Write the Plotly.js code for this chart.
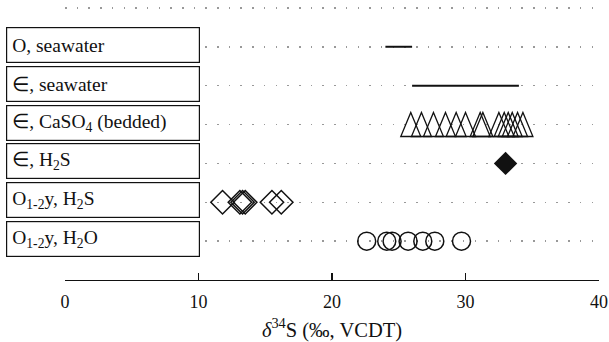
<!DOCTYPE html>
<html>
<head>
<meta charset="utf-8">
<script src="https://cdn.plot.ly/plotly-3.0.1.min.js"></script>
<style>html,body{margin:0;padding:0;background:#fff;}#chart{width:609px;height:342px;}</style>
</head>
<body>
<div id="chart"></div>
<script>
// Row labels (top to bottom) and their row positions
var rowLabels = [
  "O, seawater",
  "∈, seawater",
  "∈, CaSO<sub>4</sub> (bedded)",
  "∈, H<sub>2</sub>S",
  "O<sub>1-2</sub>y, H<sub>2</sub>S",
  "O<sub>1-2</sub>y, H<sub>2</sub>O"
];
var rowPos = [6, 5, 4, 3, 2, 1];

// δ34S values (‰, VCDT)
var oSeawaterRange = [24, 26];
var cSeawaterRange = [26, 34];
var cCaSO4 = [25.9, 26.7, 27.6, 28.5, 29.3, 30.0, 31.1, 31.3, 32.5, 32.9, 33.2, 33.5, 33.9, 34.3];
var cH2S = [33.0];
var oH2S = [11.8, 13.1, 13.3, 13.5, 15.5, 16.2];
var oH2O = [22.6, 24.1, 24.5, 25.7, 26.8, 27.7, 29.7];
var xTicks = [0, 10, 20, 30, 40];

function rowOf(arr, r) { return arr.map(function(){ return r; }); }

var FONT = "Liberation Serif, Times New Roman, serif";

var traces = [
  {x: oSeawaterRange, y: rowOf(oSeawaterRange, 6), mode: "lines", line: {color: "#111", width: 2}, hoverinfo: "x"},
  {x: cSeawaterRange, y: rowOf(cSeawaterRange, 5), mode: "lines", line: {color: "#111", width: 2}, hoverinfo: "x"},
  {x: cH2S, y: rowOf(cH2S, 3), mode: "markers", marker: {symbol: "diamond", size: 18, color: "#111"}, hoverinfo: "x"},
  {x: oH2S, y: rowOf(oH2S, 2), mode: "markers", marker: {symbol: "diamond-open", size: 18, color: "#111", line: {width: 1.5}}, hoverinfo: "x"},
  {x: oH2O, y: rowOf(oH2O, 1), mode: "markers", marker: {symbol: "circle-open", size: 18, color: "#111", line: {width: 1.5}}, hoverinfo: "x"}
];

// Triangles for bedded CaSO4, anchored at data values
var shapes = cCaSO4.map(function(v){
  return {type: "path", xref: "x", yref: "y", xsizemode: "pixel", ysizemode: "pixel",
          xanchor: v, yanchor: 4, path: "M-10,-12 L10,-12 L0,12 Z",
          line: {color: "#111", width: 1.3}, fillcolor: "rgba(0,0,0,0)"};
});

var annotations = rowLabels.map(function(t, i){
  return {text: t, xref: "paper", yref: "y", x: -0.1105, y: rowPos[i], xanchor: "left", yanchor: "middle",
          yshift: 2, showarrow: false, align: "left", width: 182, height: 24, borderpad: 5,
          bordercolor: "#111", borderwidth: 1.2, bgcolor: "#fff",
          font: {family: FONT, size: 19.5, color: "#111"}};
});

var layout = {
  width: 609, height: 342,
  margin: {l: 65, r: 10, t: 4, b: 62},
  paper_bgcolor: "#fff", plot_bgcolor: "#fff",
  showlegend: false,
  font: {family: FONT, size: 18, color: "#111"},
  xaxis: {
    range: [0, 40], tickvals: xTicks, ticktext: xTicks.map(String),
    ticks: "inside", ticklen: 7, tickwidth: 1.3, tickcolor: "#111",
    showline: true, linecolor: "#111", linewidth: 1.3,
    showgrid: false, zeroline: false, ticklabelstandoff: 5,
    tickfont: {family: FONT, size: 18, color: "#111"},
    title: {text: "<i>δ</i><sup>34</sup>S (‰, VCDT)", font: {family: FONT, size: 20.5, color: "#111"}, standoff: 12}
  },
  yaxis: {
    range: [0, 7.1], tickvals: [1, 2, 3, 4, 5, 6, 7], showticklabels: false,
    showgrid: true, gridcolor: "#999", gridwidth: 1.5, griddash: "1.5px,10.2px",
    zeroline: false, showline: false, ticks: ""
  },
  shapes: shapes,
  annotations: annotations
};

Plotly.newPlot("chart", traces, layout, {displayModeBar: false, staticPlot: true});
</script>
</body>
</html>
